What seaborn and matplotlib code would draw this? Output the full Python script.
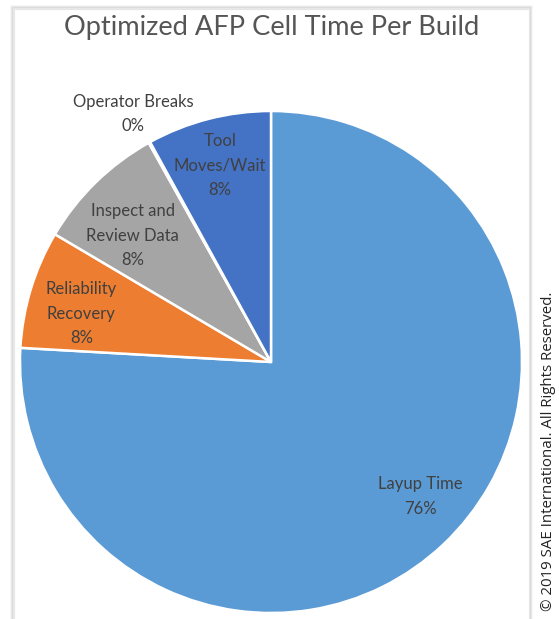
import numpy as np
import matplotlib
matplotlib.use("Agg")
import matplotlib.pyplot as plt
import matplotlib.patches as mpatches
import seaborn as sns

sns.set_theme(style="white")
plt.rcParams['font.family'] = ['Lato', 'DejaVu Sans']

# Data
categories = ["Layup Time", "Reliability\nRecovery", "Inspect and\nReview Data",
              "Operator Breaks", "Tool\nMoves/Wait"]
values = [75.9, 7.6, 8.4, 0.1, 8.0]
colors = ["#5B9BD5", "#ED7D31", "#A5A5A5", "#FFC000", "#4472C4"]
title = "Optimized AFP Cell Time Per Build"
copyright_text = "\u00a9 2019 SAE International. All Rights Reserved."

# label placement (layout only): angle in degrees and radius fraction
label_angles = [-42, 165.7, 137.6, 119, 104.6]
label_r = [0.80, 0.78, 0.745, 1.13, 0.81]

W, H = 559, 619
fig = plt.figure(figsize=(W / 100, H / 100), dpi=100)
fig.patch.set_facecolor("white")

# chart box with soft shadow
for i, a in enumerate([0.04, 0.07, 0.10]):
    off = (3 - i) * 1.0
    fig.patches.append(mpatches.Rectangle(((14 - off) / W, -0.01), (515 + 2 * off) / W,
                                          (H - 9 + off) / H + 0.01, transform=fig.transFigure,
                                          facecolor="none", edgecolor=(0, 0, 0, a),
                                          linewidth=1.2, zorder=0))
fig.patches.append(mpatches.Rectangle((14 / W, -0.01), 515 / W, (H - 9) / H + 0.01,
                                      transform=fig.transFigure, facecolor="white",
                                      edgecolor="#e6e6e6", linewidth=0.8, zorder=0))

cx, cy, R = 271, 362, 251
ax = fig.add_axes([(cx - R) / W, (H - cy - R) / H, 2 * R / W, 2 * R / H])
ax.set_zorder(2)
ax.set_facecolor("none")
wedges, _ = ax.pie(values, colors=colors, startangle=90, counterclock=False, radius=1,
                   wedgeprops=dict(edgecolor="white", linewidth=1.8))
ax.set_xlim(-1, 1)
ax.set_ylim(-1, 1)
ax.set_aspect("equal")
ax.axis("off")

for lab, v, a_deg, r in zip(categories, values, label_angles, label_r):
    ang = np.deg2rad(a_deg)
    x, y = r * np.cos(ang), r * np.sin(ang)
    ax.text(x, y, f"{lab}\n{round(v)}%", ha="center", va="center", fontsize=12,
            color="#404040", linespacing=1.65)

fig.text(0.5 * (14 + 529) / W, 1 - 27 / H, title, ha="center", va="center",
         fontsize=19.6, color="#555555", zorder=3)
fig.text(549 / W, 1 - 451 / H, copyright_text, rotation=90, ha="center", va="center",
         fontsize=10.8, color="#222222", family=["Open Sans", "DejaVu Sans"], zorder=3)

fig.savefig("out.png", dpi=100, facecolor=fig.get_facecolor())
